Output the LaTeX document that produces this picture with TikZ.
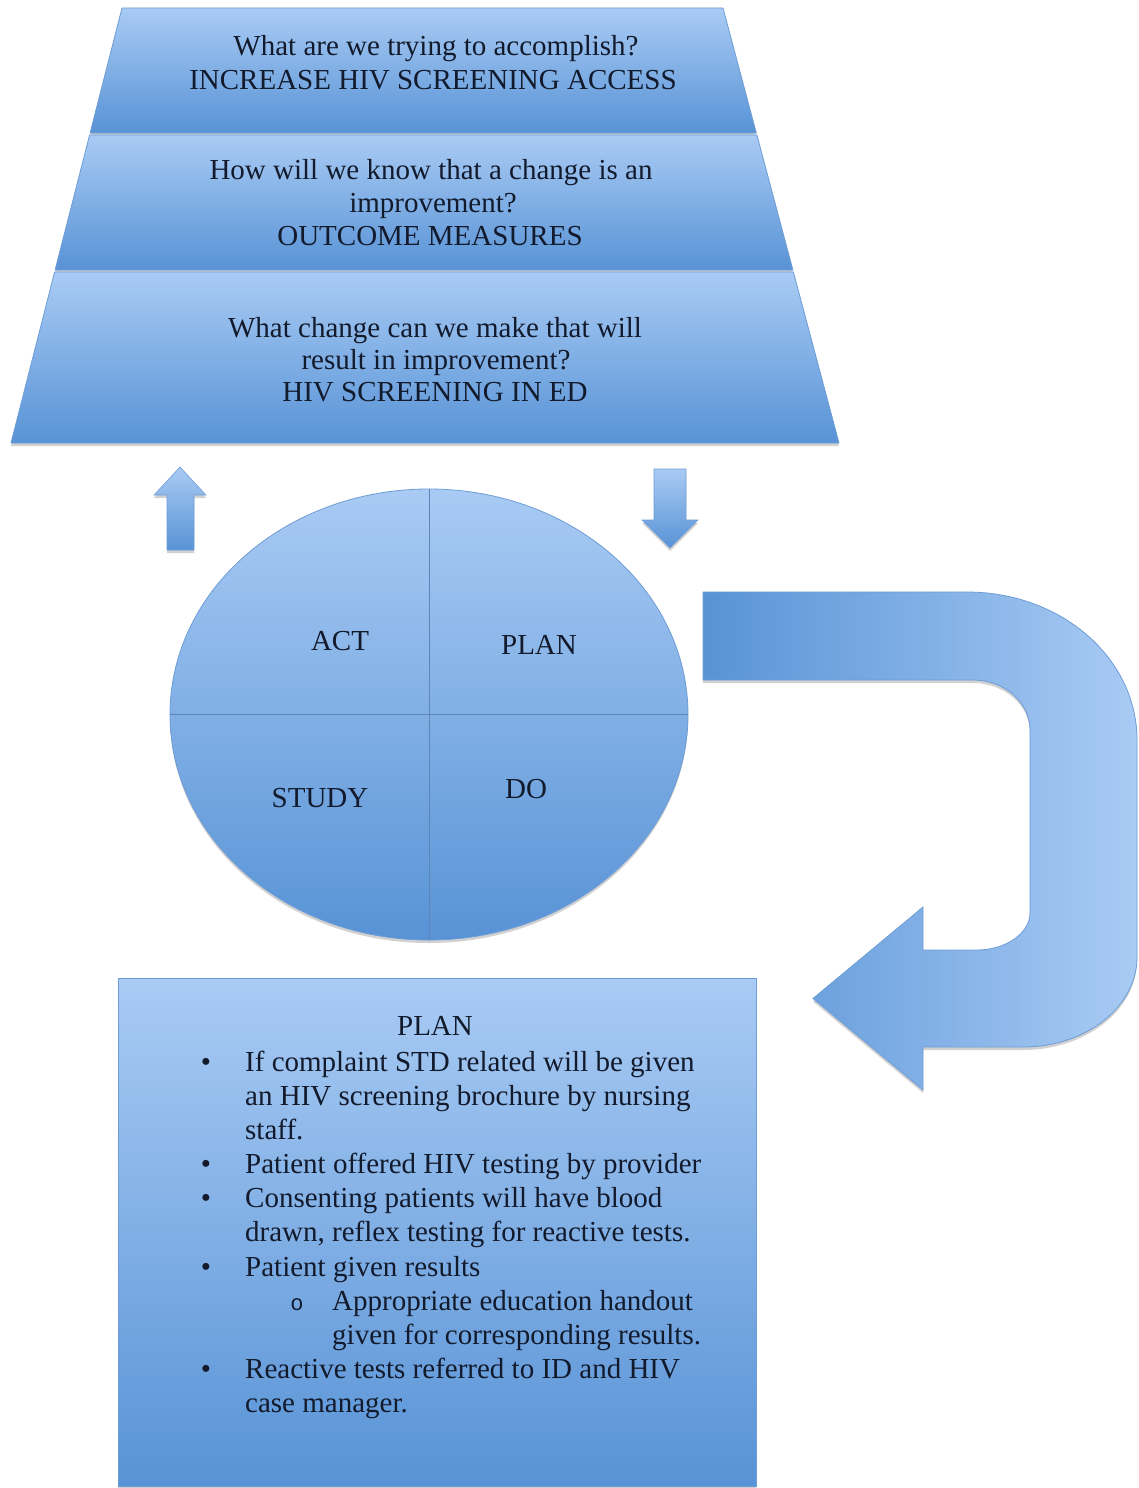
\documentclass[tikz,border=0pt]{standalone}
\usepackage{fontspec}
\setmainfont{Liberation Serif}
\newfontfamily\monof{Liberation Mono}
\usetikzlibrary{shapes.geometric,shadows}
\definecolor{lightblue}{HTML}{A9CBF4}
\definecolor{darkblue}{HTML}{5893D6}
\definecolor{edgeblue}{HTML}{6E9DD6}
\definecolor{inkcol}{HTML}{121A2C}
\tikzset{
  shadowed/.style={drop shadow={shadow xshift=0pt,shadow yshift=-3pt,opacity=0.18,fill=black}},
  band/.style={draw=edgeblue, line width=0.8pt, top color=lightblue, bottom color=darkblue, shadowed},
  lbl/.style={font=\fontsize{29}{33}\selectfont, text=inkcol, inner sep=0pt, anchor=base},
  bodytxt/.style={font=\fontsize{29}{34}\selectfont, text=inkcol, inner sep=0pt, anchor=base west},
  bul/.style={font=\fontsize{29}{34}\selectfont, text=inkcol, inner sep=0pt, anchor=base},
  subbul/.style={font=\monof\fontsize{22}{34}\selectfont, text=inkcol, inner sep=0pt, anchor=base},
  divider/.style={draw=edgeblue!85!black, line width=0.8pt},
  smallarrow/.style={draw=edgeblue, line width=0.6pt, top color=lightblue, bottom color=darkblue, shadowed},
}
\begin{document}
\begin{tikzpicture}[x=1pt,y=-1pt]
\fill[white] (0,0) rectangle (1139,1488);
\useasboundingbox (0,0) rectangle (1139,1488);

% pyramid bands
\path[band] (122,8) -- (723,8) -- (756.3,133) -- (90.1,133) -- cycle;
\path[band] (89.6,135) -- (756.9,135) -- (792.9,270) -- (55.1,270) -- cycle;
\path[band] (54.6,272) -- (793.4,272) -- (839,443) -- (11,443) -- cycle;

\node[lbl] (q1a) at (436,56) {What are we trying to accomplish?};
\node[lbl] (q1b) at (433,89) {INCREASE HIV SCREENING ACCESS};
\node[lbl] (q2a) at (431,179) {How will we know that a change is an};
\node[lbl] (q2b) at (433,212) {improvement?};
\node[lbl] (q2c) at (430,245) {OUTCOME MEASURES};
\node[lbl] (q3a) at (435,337) {What change can we make that will};
\node[lbl] (q3b) at (436,369) {result in improvement?};
\node[lbl] (q3c) at (435,401) {HIV SCREENING IN ED};

% small arrows
\path[smallarrow] (180,467) -- (206,495) -- (194,495) -- (194,550) -- (167,550) -- (167,495) -- (154,495) -- cycle;
\path[smallarrow] (654,469) -- (686,469) -- (686,520) -- (698,520) -- (670,548) -- (642,520) -- (654,520) -- cycle;

% PDSA ellipse
\node[ellipse, minimum width=518pt, minimum height=451pt, inner sep=0pt, draw=edgeblue, line width=0.8pt,
      top color=lightblue, bottom color=darkblue, shadowed] (cyc) at (429,714.5) {};
\draw[divider] (cyc.north) -- (cyc.south);
\draw[divider] (cyc.west) -- (cyc.east);
\node[lbl] (act) at (340,650) {ACT};
\node[lbl] (plan) at (539,654) {PLAN};
\node[lbl] (study) at (320,807) {STUDY};
\node[lbl] (do) at (526,798) {DO};

% U-turn arrow
\path[draw=edgeblue, line width=0.8pt, left color=darkblue, right color=lightblue, shadowed]
  (703,592) -- (967,592) .. controls (1061,592) and (1137,658) .. (1137,740)
  -- (1137,957) .. controls (1137,1007) and (1086,1047) .. (1023,1047)
  -- (923,1047) -- (923,1090) -- (813,998.5) -- (923,907) -- (923,950)
  -- (977,950) .. controls (1006,950) and (1030,933) .. (1030,913)
  -- (1030,730) .. controls (1030,702) and (1004,680) .. (973,680)
  -- (703,680) -- cycle;

% PLAN box
\path[draw=edgeblue, line width=0.8pt, top color=lightblue, bottom color=darkblue, shadowed]
  (118,978) rectangle (756,1486);
\node[lbl] (ptitle) at (435,1035) {PLAN};
\node[bul] (b1) at (206,1071) {•};
\node[bodytxt] (t1) at (245,1071) {If complaint STD related will be given};
\node[bodytxt] (t2) at (245,1105) {an HIV screening brochure by nursing};
\node[bodytxt] (t3) at (245,1139) {staff.};
\node[bul] (b2) at (206,1173) {•};
\node[bodytxt] (t4) at (245,1173) {Patient offered HIV testing by provider};
\node[bul] (b3) at (206,1207) {•};
\node[bodytxt] (t5) at (245,1207) {Consenting patients will have blood};
\node[bodytxt] (t6) at (245,1241) {drawn, reflex testing for reactive tests.};
\node[bul] (b4) at (206,1276) {•};
\node[bodytxt] (t7) at (245,1276) {Patient given results};
\node[subbul] (s1) at (297,1310) {o};
\node[bodytxt] (t8) at (332,1310) {Appropriate education handout};
\node[bodytxt] (t9) at (332,1344) {given for corresponding results.};
\node[bul] (b5) at (206,1378) {•};
\node[bodytxt] (t10) at (245,1378) {Reactive tests referred to ID and HIV};
\node[bodytxt] (t11) at (245,1412) {case manager.};
\end{tikzpicture}
\end{document}
